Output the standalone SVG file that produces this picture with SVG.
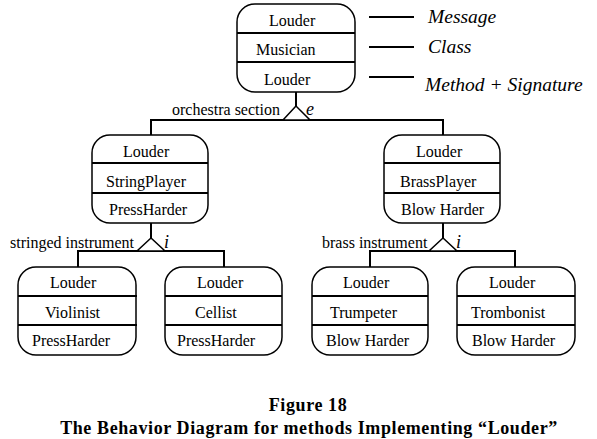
<svg xmlns="http://www.w3.org/2000/svg" width="597" height="439" viewBox="0 0 597 439">
<style>
.box{fill:#fff;stroke:#000;stroke-width:1.5}
.div{stroke:#000;stroke-width:2}
.t{font-family:"Liberation Serif","Times New Roman",serif;font-size:16px;fill:#000}
.lbl{font-family:"Liberation Serif","Times New Roman",serif;font-size:16px;fill:#000}
.it{font-family:"Liberation Serif","Times New Roman",serif;font-style:italic;fill:#000}
.cap{font-family:"Liberation Serif","Times New Roman",serif;font-weight:bold;font-size:18px;fill:#000;text-anchor:middle;letter-spacing:0.6px}
.ln{stroke:#000;stroke-width:2;fill:none}
.tri{fill:#fff;stroke:#000;stroke-width:1.5}
</style>
<rect width="597" height="439" fill="#fff"/>
<g id="connectors">
<path class="ln" d="M296 92V106M151 135V120H443V135"/>
<path class="ln" d="M151 223V238M78 267V251H224V267"/>
<path class="ln" d="M443 223V238M370 267V251H515V267"/>
<polygon class="tri" points="296,106 283,120 310,120"/>
<polygon class="tri" points="151,238 137,251 165,251"/>
<polygon class="tri" points="443,238 429,251 457,251"/>
<text class="lbl" x="172" y="115">orchestra section</text>
<text class="it" x="306" y="115" font-size="18">e</text>
<text class="lbl" x="10" y="248">stringed instrument</text>
<text class="it" x="164" y="248" font-size="18">i</text>
<text class="lbl" x="322" y="248">brass instrument</text>
<text class="it" x="456" y="248" font-size="18">i</text>
</g>
<g id="legend">
<path class="ln" d="M369 17H414M369 47H414M369 77H414"/>
<text class="it" x="428" y="23" font-size="19.5">Message</text>
<text class="it" x="428" y="53" font-size="19.5">Class</text>
<text class="it" x="425" y="91" font-size="19.5">Method + Signature</text>
</g>
<g id="musician">
<rect class="box" x="237" y="4" width="118" height="88" rx="18"/>
<path class="div" d="M237 33H355M237 62H355"/>
<text class="t" x="269" y="26">Louder</text>
<text class="t" x="256" y="55">Musician</text>
<text class="t" x="264" y="85">Louder</text>
</g>
<g id="stringplayer">
<rect class="box" x="92" y="135" width="116" height="88" rx="18"/>
<path class="div" d="M92 163H208M92 193H208"/>
<text class="t" x="123" y="157">Louder</text>
<text class="t" x="106" y="187">StringPlayer</text>
<text class="t" x="109" y="215">PressHarder</text>
</g>
<g id="brassplayer">
<rect class="box" x="384" y="135" width="116" height="88" rx="18"/>
<path class="div" d="M384 163H500M384 193H500"/>
<text class="t" x="416" y="157">Louder</text>
<text class="t" x="400" y="187">BrassPlayer</text>
<text class="t" x="401" y="215">Blow Harder</text>
</g>
<g id="violinist">
<rect class="box" x="18" y="267" width="118" height="88" rx="18"/>
<path class="div" d="M18 296H137M18 325H137"/>
<text class="t" x="50" y="288">Louder</text>
<text class="t" x="45" y="318">Violinist</text>
<text class="t" x="32" y="346">PressHarder</text>
</g>
<g id="cellist">
<rect class="box" x="165" y="267" width="117" height="88" rx="18"/>
<path class="div" d="M165 296H282M165 325H282"/>
<text class="t" x="197" y="288">Louder</text>
<text class="t" x="195" y="318">Cellist</text>
<text class="t" x="177" y="346">PressHarder</text>
</g>
<g id="trumpeter">
<rect class="box" x="312" y="267" width="116" height="88" rx="18"/>
<path class="div" d="M312 296H428M312 325H428"/>
<text class="t" x="343" y="288">Louder</text>
<text class="t" x="330" y="318">Trumpeter</text>
<text class="t" x="326" y="346">Blow Harder</text>
</g>
<g id="trombonist">
<rect class="box" x="457" y="267" width="118" height="88" rx="18"/>
<path class="div" d="M457 296H575M457 325H575"/>
<text class="t" x="489" y="288">Louder</text>
<text class="t" x="471" y="318">Trombonist</text>
<text class="t" x="472" y="346">Blow Harder</text>
</g>
<g id="caption">
<text class="cap" x="308" y="411">Figure 18</text>
<text class="cap" x="309" y="434">The Behavior Diagram for methods Implementing “Louder”</text>
</g>
</svg>
